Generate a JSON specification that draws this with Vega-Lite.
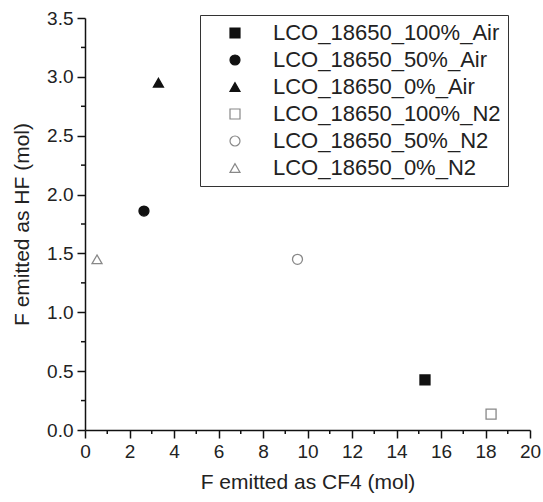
{
  "$schema": "https://vega.github.io/schema/vega-lite/v6.json",
  "width": 445,
  "height": 412,
  "autosize": "none",
  "padding": {"left": 85, "top": 18, "right": 13, "bottom": 72},
  "background": "white",
  "config": {"view": {"stroke": null}, "font": "Liberation Sans"},
  "datasets": {
    "pts": [
      {"series": "LCO_18650_100%_Air", "cf4": 15.28, "hf": 0.425},
      {"series": "LCO_18650_50%_Air", "cf4": 2.65, "hf": 1.86},
      {"series": "LCO_18650_0%_Air", "cf4": 3.3, "hf": 2.95},
      {"series": "LCO_18650_100%_N2", "cf4": 18.25, "hf": 0.135},
      {"series": "LCO_18650_50%_N2", "cf4": 9.55, "hf": 1.45},
      {"series": "LCO_18650_0%_N2", "cf4": 0.54, "hf": 1.45}
    ],
    "xminor": [{"v": 1}, {"v": 3}, {"v": 5}, {"v": 7}, {"v": 9}, {"v": 11}, {"v": 13}, {"v": 15}, {"v": 17}, {"v": 19}],
    "yminor": [{"v": 0.25}, {"v": 0.75}, {"v": 1.25}, {"v": 1.75}, {"v": 2.25}, {"v": 2.75}, {"v": 3.25}]
  },
  "layer": [
    {
      "data": {"name": "pts"},
      "mark": {"type": "point", "size": 100, "strokeWidth": 1.3, "opacity": 1},
      "encoding": {
        "x": {
          "field": "cf4", "type": "quantitative",
          "scale": {"domain": [0, 20], "nice": false, "zero": false},
          "title": "F emitted as CF4 (mol)",
          "axis": {
            "orient": "bottom",
            "zindex": 1,
            "values": [0,2,4,6,8,10,12,14,16,18,20],
            "grid": false,
            "domainColor": "#111", "domainWidth": 1.5,
            "ticks": true, "tickColor": "#111", "tickWidth": 1.5, "tickSize": 8,
            "labelFontSize": 19, "labelColor": "#222", "labelPadding": 4,
            "labelFont": "Liberation Sans", "labelOverlap": false, "labelFlush": false,
            "titleFont": "Liberation Sans", "titleFontSize": 21, "titleFontWeight": "normal",
            "titleColor": "#222", "titlePadding": 10
          }
        },
        "y": {
          "field": "hf", "type": "quantitative",
          "scale": {"domain": [0, 3.5], "nice": false, "zero": false},
          "title": "F emitted as HF (mol)",
          "axis": {
            "orient": "left",
            "zindex": 1,
            "values": [0,0.5,1,1.5,2,2.5,3,3.5],
            "format": ".1f",
            "grid": false,
            "domainColor": "#111", "domainWidth": 1.5,
            "ticks": true, "tickColor": "#111", "tickWidth": 1.5, "tickSize": 8,
            "labelFontSize": 19, "labelColor": "#222", "labelPadding": 4,
            "labelFont": "Liberation Sans", "labelOverlap": false, "labelFlush": false,
            "titleFont": "Liberation Sans", "titleFontSize": 21, "titleFontWeight": "normal",
            "titleColor": "#222", "titlePadding": 14
          }
        },
        "shape": {
          "field": "series", "type": "nominal",
          "scale": {
            "domain": ["LCO_18650_100%_Air", "LCO_18650_50%_Air", "LCO_18650_0%_Air", "LCO_18650_100%_N2", "LCO_18650_50%_N2", "LCO_18650_0%_N2"],
            "range": ["square", "circle", "triangle-up", "square", "circle", "triangle-up"]
          },
          "legend": {
            "title": null,
            "orient": "none",
            "legendX": 115,
            "legendY": -3,
            "padding": 7,
            "symbolOffset": 17,
            "labelOffset": 27,
            "symbolSize": 100,
            "symbolStrokeWidth": 1.2,
            "labelFontSize": 22,
            "labelFont": "Liberation Sans",
            "labelColor": "#222",
            "rowPadding": 5,
            "strokeColor": "#333",
            "fillColor": "white",
            "labelLimit": 400
          }
        },
        "fill": {
          "field": "series", "type": "nominal",
          "scale": {
            "domain": ["LCO_18650_100%_Air", "LCO_18650_50%_Air", "LCO_18650_0%_Air", "LCO_18650_100%_N2", "LCO_18650_50%_N2", "LCO_18650_0%_N2"],
            "range": ["#111", "#111", "#111", "transparent", "transparent", "transparent"]
          }
        },
        "stroke": {
          "field": "series", "type": "nominal",
          "scale": {
            "domain": ["LCO_18650_100%_Air", "LCO_18650_50%_Air", "LCO_18650_0%_Air", "LCO_18650_100%_N2", "LCO_18650_50%_N2", "LCO_18650_0%_N2"],
            "range": ["#111", "#111", "#111", "#888", "#888", "#888"]
          }
        }
      }
    },
    {
      "data": {"name": "xminor"},
      "mark": {"type": "rule", "clip": false, "color": "#111", "strokeWidth": 1.5, "y2Offset": 4},
      "encoding": {
        "x": {"field": "v", "type": "quantitative", "title": "F emitted as CF4 (mol)"},
        "y": {"datum": 0, "type": "quantitative"},
        "y2": {"datum": 0}
      }
    },
    {
      "data": {"name": "yminor"},
      "mark": {"type": "rule", "clip": false, "color": "#111", "strokeWidth": 1.5, "x2Offset": -4},
      "encoding": {
        "y": {"field": "v", "type": "quantitative", "title": "F emitted as HF (mol)"},
        "x": {"datum": 0, "type": "quantitative"},
        "x2": {"datum": 0}
      }
    }
  ]
}
